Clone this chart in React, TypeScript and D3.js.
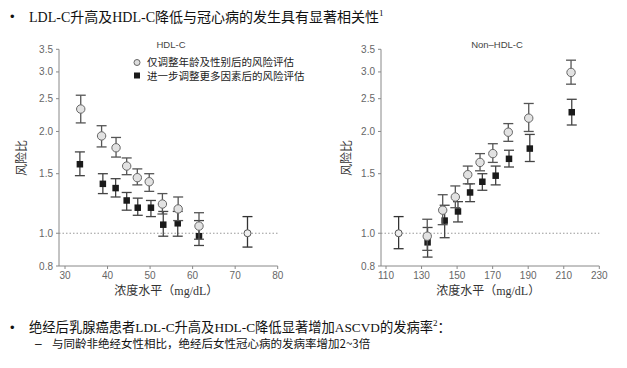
import * as React from 'react';
import * as d3 from 'd3';

// HDL-C panel
const hdlAgeX = [33.7, 38.6, 42, 44.5, 47, 49.8, 52.9, 56.6, 61.5];
const hdlAge = [2.33, 1.94, 1.79, 1.58, 1.46, 1.42, 1.22, 1.18, 1.05];
const hdlAgeLo = [2.12, 1.8, 1.68, 1.49, 1.39, 1.33, 1.14, 1.09, 0.96];
const hdlAgeHi = [2.56, 2.08, 1.92, 1.67, 1.55, 1.5, 1.31, 1.28, 1.15];
const hdlAdjX = [33.5, 38.9, 41.9, 44.5, 47.1, 50.2, 53.1, 56.5, 61.5];
const hdlAdj = [1.6, 1.4, 1.36, 1.25, 1.19, 1.19, 1.06, 1.07, 0.98];
const hdlAdjLo = [1.48, 1.31, 1.28, 1.17, 1.13, 1.12, 0.98, 0.98, 0.92];
const hdlAdjHi = [1.74, 1.5, 1.45, 1.32, 1.27, 1.25, 1.16, 1.16, 1.09];
const hdlRef = [72.9, 1.0, 0.91, 1.12];
const hdlTicks = [30, 40, 50, 60, 70, 80];

// Non-HDL-C panel
const nonAgeX = [133.2, 141.9, 149, 156, 162.9, 170.1, 178.8, 190.3, 214.1];
const nonAge = [0.98, 1.17, 1.28, 1.49, 1.62, 1.72, 1.99, 2.19, 2.99];
const nonAgeLo = [0.89, 1.06, 1.19, 1.4, 1.53, 1.62, 1.87, 2.0, 2.76];
const nonAgeHi = [1.1, 1.3, 1.38, 1.58, 1.72, 1.84, 2.11, 2.42, 3.25];
const nonAdjX = [133.4, 143, 150.5, 157.3, 164.2, 171.7, 179.2, 190.9, 214.5];
const nonAdj = [0.94, 1.09, 1.16, 1.32, 1.42, 1.48, 1.66, 1.78, 2.28];
const nonAdjLo = [0.85, 0.97, 1.08, 1.24, 1.34, 1.39, 1.57, 1.63, 2.09];
const nonAdjHi = [1.04, 1.21, 1.24, 1.4, 1.5, 1.58, 1.76, 1.96, 2.49];
const nonRef = [117.1, 1.0, 0.9, 1.12];
const nonTicks = [110, 130, 150, 170, 190, 210, 230];

const yTicks = [0.8, 1.0, 1.5, 2.0, 2.5, 3.0, 3.5];
const legendNames = ['仅调整年龄及性别后的风险评估', '进一步调整更多因素后的风险评估'];

const SANS = "'Liberation Sans', Arial, sans-serif";
const CJK = "'Noto Sans CJK SC', sans-serif";
const MIX = "'Liberation Serif', 'Noto Sans CJK SC', serif";

const y = d3.scaleLog().domain([0.8, 3.5]).range([266, 49.3]);

type PanelProps = {
  title: string;
  titleX: number;
  x: d3.ScaleLinear<number, number>;
  axisStart: number;
  ticks: number[];
  ageX: number[]; age: number[]; ageLo: number[]; ageHi: number[];
  adjX: number[]; adj: number[]; adjLo: number[]; adjHi: number[];
  refPt: number[];
  yLabelX: number;
  legend?: boolean;
};

function ErrBar({ cx, lo, hi, color }: { cx: number; lo: number; hi: number; color: string }) {
  return (
    <g stroke={color} strokeWidth={1.3} fill="none">
      <line x1={cx} x2={cx} y1={y(lo)} y2={y(hi)} />
      <line x1={cx - 5} x2={cx + 5} y1={y(lo)} y2={y(lo)} />
      <line x1={cx - 5} x2={cx + 5} y1={y(hi)} y2={y(hi)} />
    </g>
  );
}

function Panel(p: PanelProps) {
  const x = p.x;
  const x1 = x.range()[1];
  const sq = 6.5;
  return (
    <g>
      {/* dotted reference */}
      <line x1={p.axisStart} x2={x1} y1={y(1)} y2={y(1)} stroke="#999" strokeWidth={1} strokeDasharray="1.5,2" />
      {/* axes */}
      <line x1={p.axisStart} x2={p.axisStart} y1={y(3.5)} y2={y(0.8)} stroke="#888" strokeWidth={1} />
      <line x1={p.axisStart} x2={x1} y1={y(0.8)} y2={y(0.8)} stroke="#888" strokeWidth={1} />
      {yTicks.map(t => (
        <g key={t}>
          <line x1={p.axisStart - 3} x2={p.axisStart} y1={y(t)} y2={y(t)} stroke="#888" />
          <text x={p.axisStart - 6} y={y(t)} dy="0.35em" textAnchor="end" fontSize={10} fill="#666" fontFamily={SANS}>{t.toFixed(1)}</text>
        </g>
      ))}
      {p.ticks.map(t => (
        <g key={t}>
          <line x1={x(t)} x2={x(t)} y1={y(0.8)} y2={y(0.8) + 3} stroke="#888" />
          <text x={x(t)} y={279} textAnchor="middle" fontSize={10} fill="#666" fontFamily={SANS}>{t}</text>
        </g>
      ))}
      <text x={p.titleX} y={45} dy="0.35em" textAnchor="middle" fontSize={9.5} fill="#444" fontFamily={SANS}>{p.title}</text>
      <text transform={`translate(${p.yLabelX},158) rotate(-90)`} textAnchor="middle" dy="0.35em" fontSize={12} fill="#333" fontFamily={CJK}>风险比</text>
      <text x={(p.axisStart + x1) / 2 - 2} y={295} textAnchor="middle" fontSize={12} fill="#333" fontFamily={MIX}>浓度水平（mg/dL）</text>

      {/* adjusted series (squares) */}
      {p.adjX.map((v, i) => (
        <ErrBar key={'ae' + i} cx={x(v)} lo={p.adjLo[i]} hi={p.adjHi[i]} color="#444" />
      ))}
      {p.adjX.map((v, i) => (
        <rect key={'as' + i} x={x(v) - sq / 2} y={y(p.adj[i]) - sq / 2} width={sq} height={sq} fill="#1a1a1a" />
      ))}
      {/* age/sex adjusted (circles) */}
      {p.ageX.map((v, i) => (
        <ErrBar key={'ge' + i} cx={x(v)} lo={p.ageLo[i]} hi={p.ageHi[i]} color="#555" />
      ))}
      <ErrBar cx={x(p.refPt[0])} lo={p.refPt[2]} hi={p.refPt[3]} color="#333" />
      {p.ageX.map((v, i) => (
        <circle key={'gc' + i} cx={x(v)} cy={y(p.age[i])} r={4.2} fill="#e2e2e2" stroke="#666" strokeWidth={1} />
      ))}
      <circle cx={x(p.refPt[0])} cy={y(p.refPt[1])} r={3.5} fill="#eee" stroke="#555" strokeWidth={1} />

      {p.legend && (
        <g>
          <circle cx={137} cy={62.5} r={3} fill="#ddd" stroke="#666" />
          <rect x={134} y={72.5} width={6} height={6} fill="#1a1a1a" />
          <text x={147} y={62} dy="0.35em" fontSize={10.5} fill="#222" fontFamily={CJK}>{legendNames[0]}</text>
          <text x={147} y={76.5} dy="0.35em" fontSize={10.5} fill="#222" fontFamily={CJK}>{legendNames[1]}</text>
        </g>
      )}
    </g>
  );
}

export default function App() {
  const xl = d3.scaleLinear().domain([30, 80]).range([65, 277.7]);
  const xr = d3.scaleLinear().domain([110, 230]).range([386, 599.3]);
  return (
    <svg width={627} height={368} style={{ position: 'absolute', left: 0, top: 0, background: '#fff' }}>
      <rect width={627} height={368} fill="#fff" />
      {/* header bullet */}
      <text x={10} y={21} fontSize={13} fill="#111" fontFamily={SANS}>•</text>
      <text x={29} y={22} fontSize={14} fill="#111" fontFamily={MIX}>
        LDL-C升高及HDL-C降低与冠心病的发生具有显著相关性
        <tspan fontSize={9} dy={-6}>1</tspan>
      </text>

      <Panel title="HDL-C" titleX={171} x={xl} axisStart={59} ticks={hdlTicks}
        ageX={hdlAgeX} age={hdlAge} ageLo={hdlAgeLo} ageHi={hdlAgeHi}
        adjX={hdlAdjX} adj={hdlAdj} adjLo={hdlAdjLo} adjHi={hdlAdjHi}
        refPt={hdlRef} yLabelX={22} legend />
      <Panel title="Non–HDL-C" titleX={497} x={xr} axisStart={381} ticks={nonTicks}
        ageX={nonAgeX} age={nonAge} ageLo={nonAgeLo} ageHi={nonAgeHi}
        adjX={nonAdjX} adj={nonAdj} adjLo={nonAdjLo} adjHi={nonAdjHi}
        refPt={nonRef} yLabelX={347} />

      {/* footer bullets */}
      <text x={10} y={332} fontSize={13} fill="#111" fontFamily={SANS}>•</text>
      <text x={29} y={332} fontSize={13.3} fill="#111" fontFamily={MIX}>
        绝经后乳腺癌患者LDL-C升高及HDL-C降低显著增加ASCVD的发病率
        <tspan fontSize={9} dy={-6}>2</tspan>
        <tspan dy={6}>：</tspan>
      </text>
      <text x={35} y={348} fontSize={12} fill="#111" fontFamily={SANS}>–</text>
      <text x={52} y={348} fontSize={11.5} fill="#111" fontFamily={CJK}>与同龄非绝经女性相比，绝经后女性冠心病的发病率增加2~3倍</text>
    </svg>
  );
}
